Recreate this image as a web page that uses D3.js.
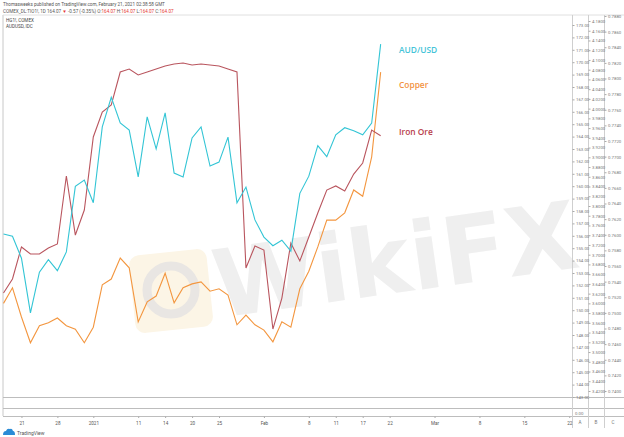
<!DOCTYPE html>
<html><head><meta charset="utf-8">
<script src="https://cdn.jsdelivr.net/npm/d3@7/dist/d3.min.js"></script>
<style>html,body{margin:0;padding:0;background:#fff;overflow:hidden}</style>
</head><body>
<svg id="c" width="624" height="437"></svg>
<script>
// ---- data (daily closes, index 0 = Dec 17 2020 ... 42 = Feb 19 2021)
const ironOre = [151.39,152.52,155.10,154.53,154.53,155.02,155.34,160.82,156.06,158.08,163.97,165.98,166.55,169.21,169.45,168.97,169.21,169.45,169.69,169.85,169.94,169.77,169.85,169.77,169.69,169.45,169.21,153.40,155.18,154.85,148.48,150.98,155.42,153.97,155.90,157.84,159.69,160.02,159.61,160.98,161.87,164.53,164.07];
const copper = [3.600,3.632,3.572,3.519,3.554,3.560,3.570,3.554,3.547,3.519,3.551,3.638,3.650,3.693,3.673,3.562,3.603,3.615,3.662,3.601,3.632,3.640,3.644,3.625,3.630,3.617,3.556,3.576,3.556,3.545,3.521,3.562,3.551,3.630,3.666,3.716,3.771,3.771,3.786,3.833,3.820,3.901,4.075];
const audusd = [0.7601,0.7598,0.7570,0.7500,0.7552,0.7568,0.7554,0.7578,0.7662,0.7670,0.7641,0.7738,0.7776,0.7743,0.7734,0.7674,0.7751,0.7710,0.7756,0.7679,0.7674,0.7724,0.7738,0.7688,0.7693,0.7725,0.7641,0.7661,0.7619,0.7597,0.7586,0.7593,0.7579,0.7653,0.7675,0.7714,0.7700,0.7728,0.7737,0.7733,0.7728,0.7743,0.7844];
const timeTickIdx = [2,6,10,15,18,21,24,29,34,37,40,43,48,53,58,63];
const timeTickLabels = ["21","28","2021","11","14","20","25","Feb","8","11","17","22","Mar","8","15","22"];
const axisATicks = d3.range(143,173.5,1);
const axisBTicks = d3.range(3.42,4.1801,0.02);
const axisCTicks = d3.range(0.740,0.78801,0.002);
const seriesNames = ["AUD/USD","Copper","Iron Ore"];

const svg = d3.select("#c");
const F = "Roboto, 'Noto Sans', Arial, sans-serif";
const paneL = 3, paneR = 572, paneT = 15, paneB = 397;

const x = d3.scaleLinear().domain([0,63]).range([3.5, 3.5+63*8.98]);
const yA = d3.scaleLinear().domain([143,173]).range([397,25]);
const yB = d3.scaleLinear().domain([3.42,4.18]).range([391,21]);
const yC = d3.scaleLinear().domain([0.740,0.788]).range([391,16]);

// watermark
svg.append("rect").attr("x",132).attr("y",252).attr("width",78).attr("height",78).attr("rx",10)
  .attr("fill","#fcf5e6").attr("transform","rotate(-6,171,291)");
svg.append("circle").attr("cx",171).attr("cy",290).attr("r",24).attr("fill","none")
  .attr("stroke","#e9e6e3").attr("stroke-width",9);
svg.append("text").attr("x",218).attr("y",318).attr("transform","rotate(-8,218,318)")
  .attr("font-family","'DejaVu Sans', sans-serif").attr("font-weight","bold").attr("font-size",94)
  .attr("fill","#efefef").text("WikiFX");

// frame lines
const g = svg.append("g");
g.append("line").attr("x1",paneL).attr("x2",paneL).attr("y1",paneT).attr("y2",416).attr("stroke","#c8c8c8");
g.append("line").attr("x1",paneL).attr("x2",624).attr("y1",paneT).attr("y2",paneT).attr("stroke","#e0e0e0");
[397,408,416].forEach(yy=>g.append("line").attr("x1",paneL).attr("x2",624).attr("y1",yy+0.5).attr("y2",yy+0.5).attr("stroke","#bdbdbd"));
[572,588,604].forEach(xx=>g.append("line").attr("x1",xx+0.5).attr("x2",xx+0.5).attr("y1",paneT).attr("y2",428).attr("stroke","#cfcfcf"));

// header texts
svg.append("text").attr("x",3).attr("y",6).attr("font-family",F).attr("font-size",4.6).attr("fill","#555")
  .text("Thomasweeks published on TradingView.com, February 21, 2021 02:38:58 GMT");
const h2 = svg.append("text").attr("x",3).attr("y",12.5).attr("font-family",F).attr("font-size",4.6).attr("fill","#555");
h2.append("tspan").text("COMEX_DL:TIO1!, 1D 164.07 ");
h2.append("tspan").attr("fill","#e53935").text("▼");
h2.append("tspan").text(" -0.57 (-0.35%) O:");
h2.append("tspan").attr("fill","#e53935").text("164.07");
h2.append("tspan").text(" H:");
h2.append("tspan").attr("fill","#e53935").text("164.07");
h2.append("tspan").text(" L:");
h2.append("tspan").attr("fill","#e53935").text("164.07");
h2.append("tspan").text(" C:");
h2.append("tspan").attr("fill","#e53935").text("164.07");
svg.append("text").attr("x",6).attr("y",22).attr("font-family",F).attr("font-size",4.6).attr("fill","#444").text("HG1!, COMEX");
svg.append("text").attr("x",6).attr("y",28).attr("font-family",F).attr("font-size",4.6).attr("fill","#444").text("AUDUSD, IDC");

// price axes
const axA = d3.axisRight(yA).tickValues(axisATicks).tickFormat(d3.format(".2f")).tickSize(2).tickPadding(1.5);
const axB = d3.axisRight(yB).tickValues(axisBTicks).tickFormat(d3.format(".4f")).tickSize(2).tickPadding(1.5);
const axC = d3.axisRight(yC).tickValues(axisCTicks).tickFormat(d3.format(".4f")).tickSize(2).tickPadding(1.5);
[[axA,572.5],[axB,588.5],[axC,604.5]].forEach(([ax,xx])=>{
  const a = svg.append("g").attr("transform",`translate(${xx},0)`).call(ax);
  a.select(".domain").remove();
  a.selectAll("line").attr("stroke","#aaa");
  a.selectAll("text").attr("font-family",F).attr("font-size",4.3).attr("fill","#777");
});
svg.append("text").attr("x",575).attr("y",414.5).attr("font-family",F).attr("font-size",4.3).attr("fill","#777").text("0.00");
[["A",580],["B",596],["C",613]].forEach(([t,xx])=>svg.append("text").attr("x",xx).attr("y",423.5).attr("text-anchor","middle")
  .attr("font-family",F).attr("font-size",4.6).attr("fill","#777").text(t));

// time axis
const tx = d3.axisBottom(x).tickValues(timeTickIdx).tickFormat((d,i)=>timeTickLabels[i]).tickSize(1.5).tickPadding(3.5);
const ta = svg.append("g").attr("transform","translate(0,416.5)").call(tx);
ta.select(".domain").remove();
ta.selectAll("line").attr("stroke","#aaa");
ta.selectAll("text").attr("font-family",F).attr("font-size",4.6).attr("fill","#555");

// series lines
const clip = svg.append("clipPath").attr("id","pc").append("rect").attr("x",paneL).attr("y",paneT).attr("width",paneR-paneL).attr("height",paneB-paneT);
const lg = svg.append("g").attr("clip-path","url(#pc)");
const mk = (ys)=>d3.line().x((d,i)=>x(i)).y(d=>ys(d));
lg.append("path").datum(copper).attr("d",mk(yB)).attr("fill","none").attr("stroke","#f3963f").attr("stroke-width",1.1);
lg.append("path").datum(ironOre).attr("d",mk(yA)).attr("fill","none").attr("stroke","#b9555e").attr("stroke-width",1.1);
lg.append("path").datum(audusd).attr("d",mk(yC)).attr("fill","none").attr("stroke","#33c5d5").attr("stroke-width",1.1);

// labels
const labs = [[seriesNames[0],53,"#45c4d8"],[seriesNames[1],87.5,"#f2933f"],[seriesNames[2],134.5,"#b8404b"]];
labs.forEach(([t,yy,c])=>svg.append("text").attr("x",399).attr("y",yy).attr("font-family","'Open Sans', sans-serif").attr("font-weight","600")
  .attr("font-size",8.4).attr("fill",c).text(t));

// tradingview footer
const tv = svg.append("g").attr("transform","translate(3,428)");
tv.append("path").attr("d","M0,7 Q0,3 3,3 Q4,0 7,1 Q9,0 10,3 Q12,3 12,7 Z").attr("fill","#2a8bd6");
tv.append("text").attr("x",14).attr("y",6.5).attr("font-family",F).attr("font-size",5).attr("fill","#555").text("TradingView");
</script>
</body></html>
